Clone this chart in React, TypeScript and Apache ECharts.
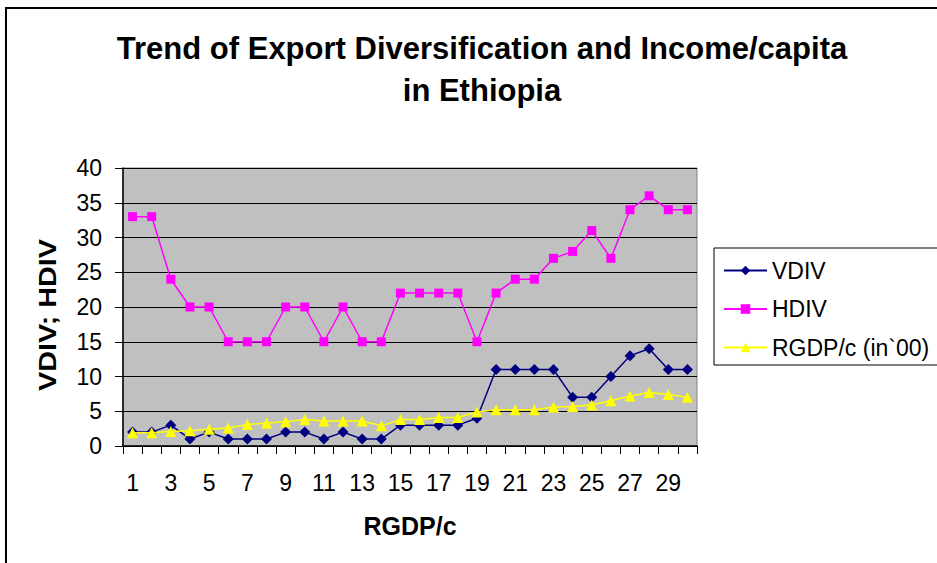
import React, { useEffect, useRef } from "react";
import * as echarts from "echarts";

// Year index along the x axis (labelled "RGDP/c")
const categories: string[] = Array.from({ length: 30 }, (_, i) => String(i + 1));

const vdiv: number[] = [2, 2, 3, 1, 2, 1, 1, 1, 2, 2, 1, 2, 1, 1, 3, 3, 3, 3, 4, 11, 11, 11, 11, 7, 7, 10, 13, 14, 11, 11];
const hdiv: number[] = [33, 33, 24, 20, 20, 15, 15, 15, 20, 20, 15, 20, 15, 15, 22, 22, 22, 22, 15, 22, 24, 24, 27, 28, 31, 27, 34, 36, 34, 34];
const rgdp: number[] = [1.9, 1.9, 2.1, 2.2, 2.4, 2.6, 3.1, 3.3, 3.5, 3.8, 3.6, 3.6, 3.6, 2.9, 3.8, 3.8, 4.1, 4.1, 4.9, 5.2, 5.2, 5.2, 5.6, 5.7, 5.9, 6.5, 7.2, 7.7, 7.4, 7.0];

const FONT = "'Liberation Sans', Arial, sans-serif";

export default function App() {
  const ref = useRef<HTMLDivElement>(null);

  useEffect(() => {
    if (!ref.current) return;
    const chart = echarts.init(ref.current, undefined, { renderer: "svg" });
    chart.setOption({
      animation: false,
      backgroundColor: "#ffffff",
      textStyle: { fontFamily: FONT },
      graphic: [
        {
          type: "rect",
          shape: { x: 6, y: 8, width: 1000, height: 1000 },
          style: { fill: "none", stroke: "#000", lineWidth: 2 },
          silent: true,
        },
        {
          type: "text",
          x: 482,
          y: 48,
          style: {
            text: "Trend of Export Diversification and Income/capita",
            font: `bold 31px ${FONT}`,
            fill: "#000",
            align: "center",
            verticalAlign: "middle",
          },
        },
        {
          type: "text",
          x: 482,
          y: 90,
          style: {
            text: "in Ethiopia",
            font: `bold 31px ${FONT}`,
            fill: "#000",
            align: "center",
            verticalAlign: "middle",
          },
        },
        // value-axis title, stretched along its length
        {
          type: "text",
          x: 48,
          y: 315,
          rotation: Math.PI / 2,
          scaleX: 1.2,
          style: {
            text: "VDIV; HDIV",
            font: `bold 24px ${FONT}`,
            fill: "#000",
            align: "center",
            verticalAlign: "middle",
          },
        },
      ],
      legend: {
        orient: "vertical",
        left: 714,
        top: 248,
        padding: [11, 200, 6, 9],
        borderColor: "#000",
        borderWidth: 1,
        backgroundColor: "#fff",
        itemWidth: 43,
        itemHeight: 12,
        itemGap: 15.5,
        textStyle: { fontSize: 23, color: "#000", fontFamily: FONT, lineHeight: 23 },
        data: ["VDIV", "HDIV", "RGDP/c (in`00)"],
      },
      grid: {
        left: 123,
        right: 240,
        top: 168,
        bottom: 117,
        show: true,
        backgroundColor: "#C0C0C0",
        borderColor: "#808080",
        borderWidth: 1,
      },
      xAxis: {
        type: "category",
        data: categories,
        boundaryGap: true,
        name: "RGDP/c",
        nameLocation: "middle",
        nameGap: 67,
        nameTextStyle: { fontSize: 25, fontWeight: "bold", color: "#000", fontFamily: FONT },
        axisLine: { lineStyle: { color: "#000", width: 1.5 } },
        axisTick: { show: true, interval: 0, length: 8, lineStyle: { color: "#000" } },
        axisLabel: { interval: 1, fontSize: 23, color: "#000", margin: 25, fontFamily: FONT },
        splitLine: { show: false },
      },
      yAxis: {
        type: "value",
        min: 0,
        max: 40,
        interval: 5,
        axisLine: { show: true, lineStyle: { color: "#000", width: 1.5 } },
        axisTick: { show: true, length: 8, lineStyle: { color: "#000" } },
        axisLabel: { fontSize: 23, color: "#000", margin: 21, fontFamily: FONT },
        splitLine: { show: true, lineStyle: { color: "#000", width: 1 } },
      },
      series: [
        {
          name: "VDIV",
          type: "line",
          data: vdiv,
          symbol: "diamond",
          symbolSize: 11,
          itemStyle: { color: "#000080" },
          lineStyle: { color: "#000080", width: 1.5 },
          z: 3,
        },
        {
          name: "HDIV",
          type: "line",
          data: hdiv,
          symbol: "rect",
          symbolSize: 9,
          itemStyle: { color: "#FF00FF" },
          lineStyle: { color: "#FF00FF", width: 1.5 },
          z: 2,
        },
        {
          name: "RGDP/c (in`00)",
          type: "line",
          data: rgdp,
          symbol: "triangle",
          symbolSize: 11,
          itemStyle: { color: "#FFFF00" },
          lineStyle: { color: "#FFFF00", width: 1.5 },
          z: 4,
        },
      ],
    });
    return () => chart.dispose();
  }, []);

  return (
    <div
      ref={ref}
      style={{ position: "fixed", left: 0, top: 0, width: 937, height: 563 }}
    />
  );
}
